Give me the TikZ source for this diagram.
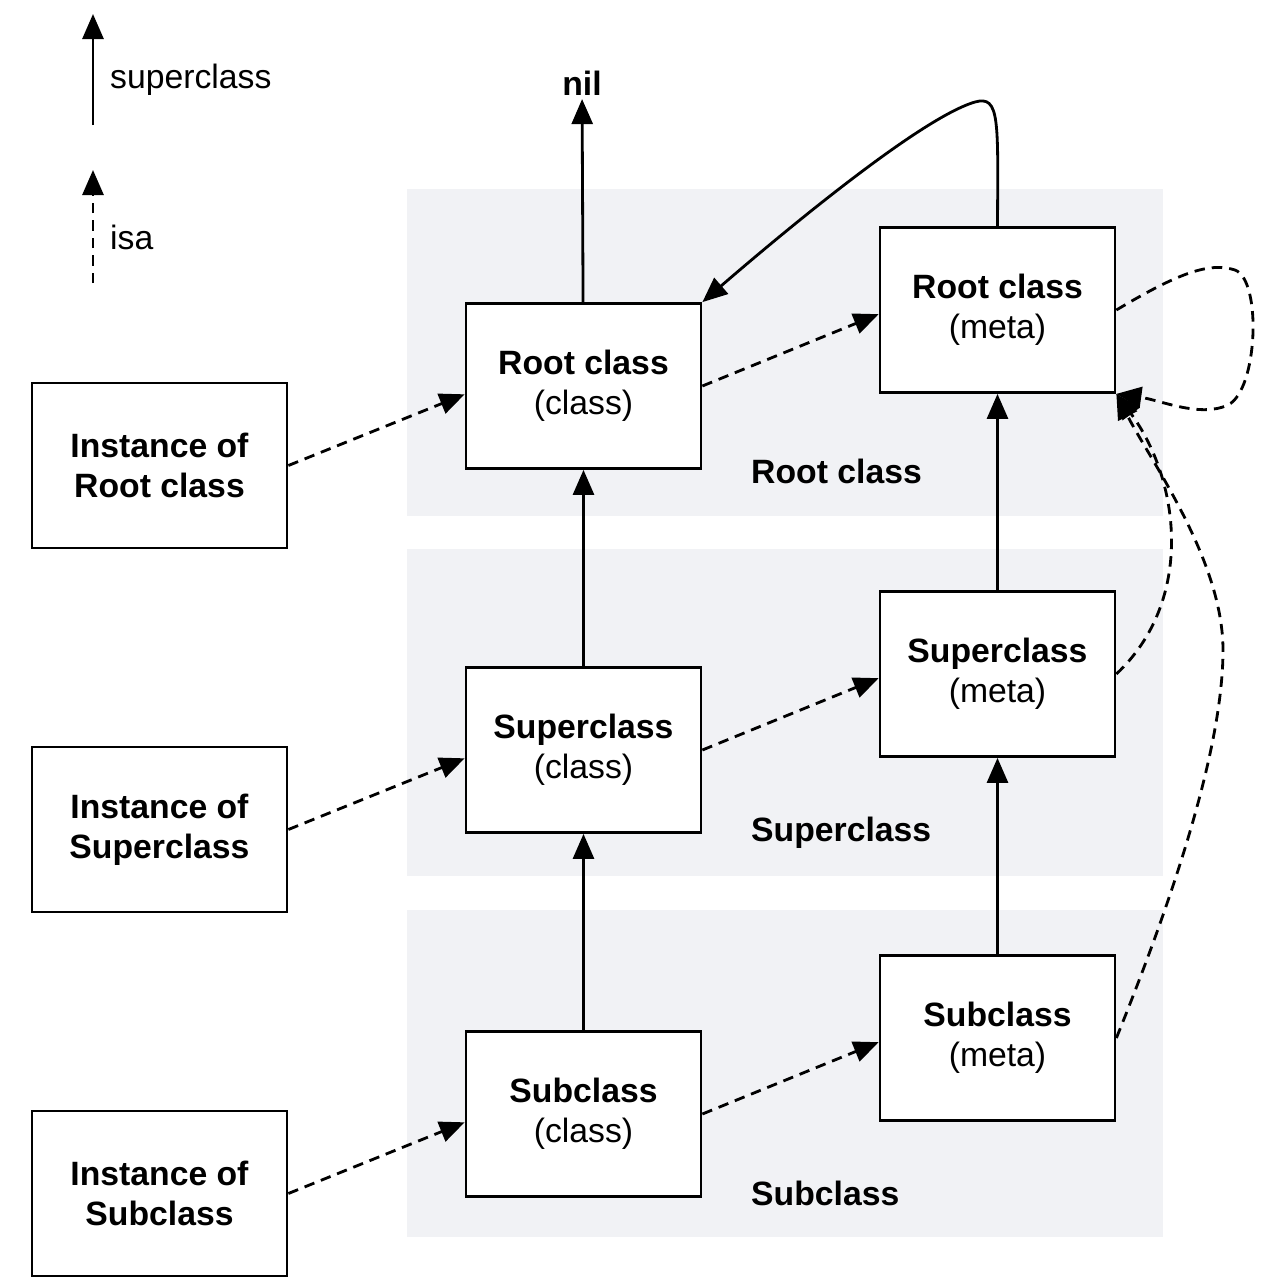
\documentclass[tikz,border=0pt]{standalone}
\usepackage{fontspec}
\setmainfont{Liberation Sans}
\usetikzlibrary{arrows.meta}
\definecolor{bandgray}{RGB}{241,242,245}

\begin{document}
\begin{tikzpicture}[x=0.02cm,y=-0.02cm,
    every node/.style={font=\fontsize{19.2}{22.9}\selectfont},
    box/.style={shape=rectangle,draw=black,line width=1.6pt,fill=white,
        minimum width=4.7cm,minimum height=3.3cm,align=center},
    instbox/.style={box,minimum width=5.1cm},
    superarrow/.style={-{Triangle[length=0.5cm,width=0.42cm]},line width=1.6pt},
    isaarrow/.style={superarrow,dash pattern=on 0.21cm off 0.14cm}]
    \useasboundingbox (0,0) rectangle (1280,1286);

    % bands
    \foreach \t in {189,549,910}
        \fill[bandgray] (407,\t) rectangle (1163,\t+327);
    \node[anchor=west,font=\fontsize{19.2}{22.9}\selectfont\bfseries] (RL) at (745,471) {Root class};
    \node[anchor=west,font=\fontsize{19.2}{22.9}\selectfont\bfseries] (SL) at (745,833) {Superclass};
    \node[anchor=west,font=\fontsize{19.2}{22.9}\selectfont\bfseries] (BL) at (745,1193) {Subclass};

    % legend
    \coordinate (supA) at (93,125);
    \coordinate (supB) at (93,14);
    \coordinate (isaA) at (93,283);
    \coordinate (isaB) at (93,170);
    \draw[superarrow] (supA) -- (supB);
    \draw[isaarrow] (isaA) -- (isaB);
    \node[anchor=west] (supT) at (104,80) {superclass};
    \node[anchor=west] (isaT) at (104,237) {isa};

    \node[instbox] (RI) at (159.5,465.5) {\textbf{Instance of}\\\textbf{Root class}};
    \node[instbox] (SI) at (159.5,829.5) {\textbf{Instance of}\\\textbf{Superclass}};
    \node[instbox] (BI) at (159.5,1193.5) {\textbf{Instance of}\\\textbf{Subclass}};
    \node[box] (RC) at (583.5,386) {\textbf{Root class}\\(class)};
    \node[box] (SC) at (583.5,750) {\textbf{Superclass}\\(class)};
    \node[box] (BC) at (583.5,1114) {\textbf{Subclass}\\(class)};
    \node[box] (RM) at (997.5,310) {\textbf{Root class}\\(meta)};
    \node[box] (SM) at (997.5,674) {\textbf{Superclass}\\(meta)};
    \node[box] (BM) at (997.5,1038) {\textbf{Subclass}\\(meta)};
    \node[font=\fontsize{19.2}{22.9}\selectfont\bfseries,inner sep=2pt] (nil) at (582,83) {nil};

    % superclass
    \path [superarrow] (BC) edge (SC) (SC) edge (RC) (RC) edge (nil);
    \path [superarrow] (BM) edge (SM) (SM) edge (RM);
    \draw[superarrow] (RM.north) .. controls (998,120) and (1000,95) .. (975,102)
        .. controls (920,118) and (780,235) .. (RC.north east);

    % isa
    \path [isaarrow] (RI.east) edge (RC.184) (RC.east) edge (RM.182);
    \path [isaarrow] (SI.east) edge (SC.184) (SC.east) edge (SM.182);
    \path [isaarrow] (BI.east) edge (BC.184) (BC.east) edge (BM.182);
    \draw[isaarrow] (RM.east) .. controls (1180,272) and (1210,262) .. (1235,270)
        .. controls (1262,280) and (1258,390) .. (1228,405)
        .. controls (1200,418) and (1160,400) .. (RM.south east);
    \draw[isaarrow] (SM.east) .. controls (1195,600) and (1180,480) .. (RM.south east);
    \draw[isaarrow] (BM.east) .. controls (1160,930) and (1223,760) .. (1223,650)
        .. controls (1223,560) and (1150,460) .. (RM.south east);
\end{tikzpicture}
\end{document}
